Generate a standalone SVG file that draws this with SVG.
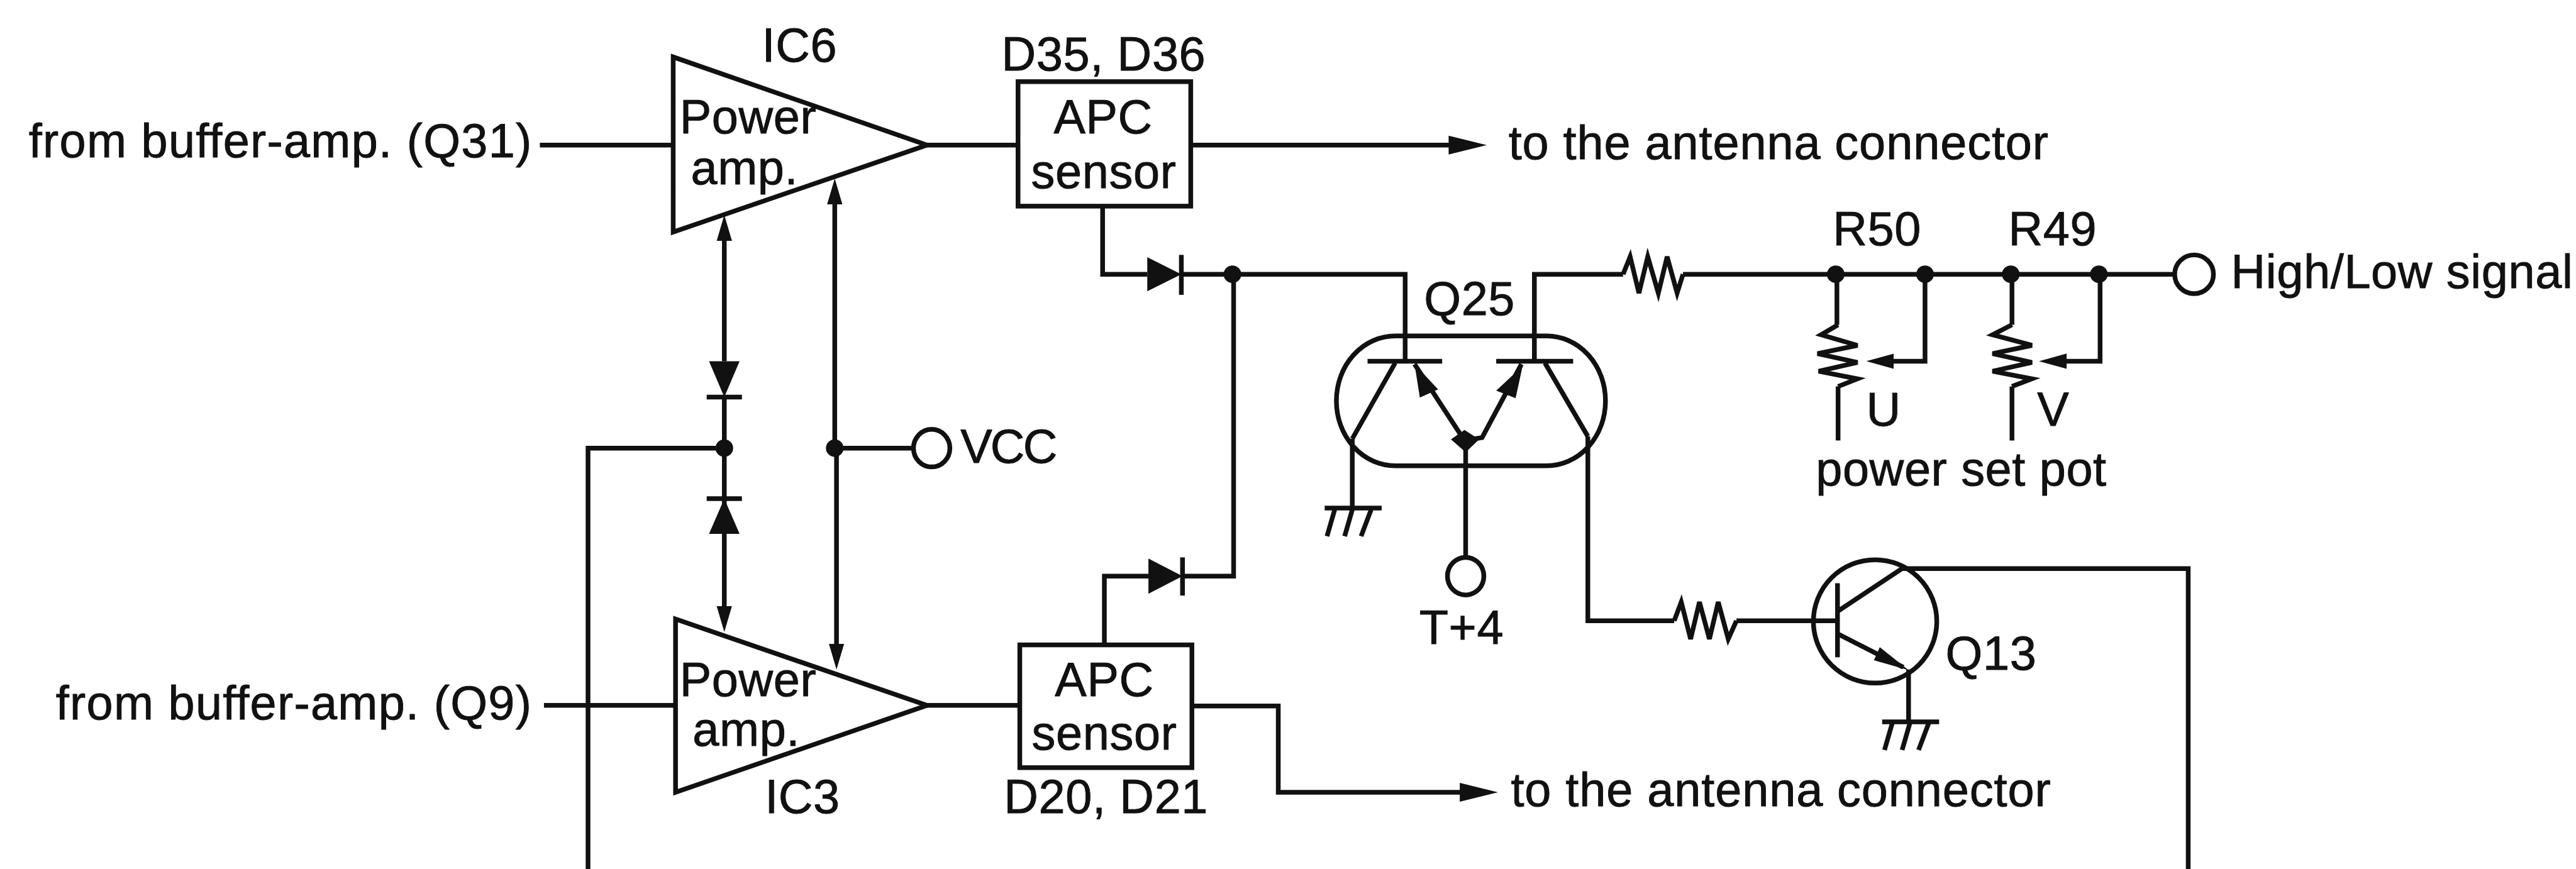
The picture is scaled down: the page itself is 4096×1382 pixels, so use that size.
<svg xmlns="http://www.w3.org/2000/svg" width="4096" height="1382" viewBox="0 0 4096 1382">
<style>
text{font-family:"Liberation Sans",Arial,sans-serif;font-size:81px;fill:#111;stroke:#111;stroke-width:1;letter-spacing:.7px}
.w{letter-spacing:1.4px}
.a{letter-spacing:1px}
.l{fill:none;stroke:#111;stroke-width:8;stroke-linejoin:miter}
.f{fill:#111;stroke:none}
.m{text-anchor:middle}
</style>
<defs>
<marker id="arr" markerUnits="userSpaceOnUse" markerWidth="44" markerHeight="28" refX="30" refY="14" orient="auto" viewBox="0 0 44 28"><path d="M0,1L44,14L0,27Z" fill="#111"/></marker>
<marker id="arrL" markerUnits="userSpaceOnUse" markerWidth="65" markerHeight="32" refX="45" refY="16" orient="auto" viewBox="0 0 65 32"><path d="M0,0L65,16L0,32Z" fill="#111"/></marker>
<marker id="arrM" markerUnits="userSpaceOnUse" markerWidth="47" markerHeight="26" refX="27" refY="13" orient="auto" viewBox="0 0 47 26"><path d="M0,0L47,13L0,26Z" fill="#111"/></marker>
<symbol id="gnd" overflow="visible"><path class="l" d="M-47,0H50M-30,3L-43,48M0,3L-13,48M32,3L15,48"/></symbol>
</defs>
<rect width="4096" height="1382" fill="#fff"/>
<g transform="scale(0.93406)">
<g id="connectors">
<path class="l" d="M919,247H1146"/>
<path class="l" d="M1578,247H1733"/>
<path class="l" d="M2027,247H2511" marker-end="url(#arrL)"/>
<path class="l" d="M926,1201H1150"/>
<path class="l" d="M1578,1201H1736"/>
<path class="l" d="M2029,1202H2176V1349H2530" marker-end="url(#arrL)"/>
<path class="l" d="M1233,615V380" marker-end="url(#arr)"/>
<path class="l" d="M1233,676V909"/>
<path class="l" d="M1233,909V1062" marker-end="url(#arr)"/>
<path class="l" d="M1421,763V318" marker-end="url(#arr)"/>
<path class="l" d="M1424,763V1126" marker-end="url(#arr)"/>
<path class="l" d="M1421,763H1554"/>
<path class="l" d="M1233,763H1001V1480"/>
<path class="l" d="M1877,351V467H1953"/>
<path class="l" d="M2011,467H2392V615"/>
<path class="l" d="M1880,1098V981H1955"/>
<path class="l" d="M2013,981H2100V467"/>
<path class="l" d="M2612,615V467H2763"/>
<path class="l" d="M2865,467H3703"/>
<path class="l" d="M3127,467V553"/>
<path class="l" d="M3129,658V750"/>
<path class="l" d="M3277,467V615H3197" marker-end="url(#arrM)"/>
<path class="l" d="M3425,467V553"/>
<path class="l" d="M3425,658V750"/>
<path class="l" d="M3575,467V615H3491" marker-end="url(#arrM)"/>
<path class="l" d="M2302,747V865"/>
<path class="l" d="M2495,750V950"/>
<path class="l" d="M2703,743V1057H2850"/>
<path class="l" d="M2956,1057H3128"/>
<path class="l" d="M3238,968H3725V1480"/>
<path class="l" d="M3249,1140V1229"/>
<circle class="f" cx="1233" cy="763" r="15"/>
<circle class="f" cx="1421" cy="763" r="15"/>
<circle class="f" cx="2098" cy="467" r="15"/>
<circle class="f" cx="3125" cy="467" r="15"/>
<circle class="f" cx="3277" cy="467" r="15"/>
<circle class="f" cx="3423" cy="467" r="15"/>
<circle class="f" cx="3573" cy="467" r="15"/>
</g>
<g id="label-q31"><text class="w" x="49" y="268">from buffer-amp. (Q31)</text></g>
<g id="label-q9"><text class="w" x="95" y="1225">from buffer-amp. (Q9)</text></g>
<g id="ic6"><path class="l" d="M1146,97V395L1578,247Z"/><text x="1157" y="227">Power</text><text x="1176" y="314">amp.</text><text x="1297" y="105">IC6</text></g>
<g id="ic3"><path class="l" d="M1150,1054V1349L1578,1201Z"/><text x="1157" y="1185">Power</text><text x="1179" y="1270">amp.</text><text x="1302" y="1384">IC3</text></g>
<g id="apc-top"><rect class="l" x="1733" y="139" width="294" height="212"/><text class="m" x="1878" y="227">APC</text><text class="m" x="1879" y="320">sensor</text><text x="1705" y="120">D35, D36</text></g>
<g id="apc-bottom"><rect class="l" x="1736" y="1098" width="293" height="209"/><text class="m" x="1880" y="1185">APC</text><text class="m" x="1880" y="1276">sensor</text><text x="1709" y="1384">D20, D21</text></g>
<g id="antenna-top"><text class="a" x="2568" y="271">to the antenna connector</text></g>
<g id="antenna-bottom"><text class="a" x="2572" y="1372">to the antenna connector</text></g>
<g id="diode-ic6"><path class="f" d="M1207,615H1259L1233,676Z"/><path class="l" d="M1203,676H1263"/></g>
<g id="diode-ic3"><path class="f" d="M1207,909H1259L1233,849Z"/><path class="l" d="M1203,849H1263"/></g>
<g id="diode-apc-top"><path class="f" d="M1953,438V496L2011,467Z"/><path class="l" d="M2011,434V502"/></g>
<g id="diode-apc-bottom"><path class="f" d="M1955,951V1011L2013,981Z"/><path class="l" d="M2013,949V1014"/></g>
<g id="vcc"><ellipse class="l" cx="1586" cy="763" rx="31" ry="32"/><text x="1635" y="788" style="letter-spacing:-3px">VCC</text></g>
<g id="q25">
<rect class="l" x="2275" y="572" width="458" height="221" rx="100" ry="110"/>
<path class="l" d="M2328,615H2455M2547,615H2678"/>
<path class="l" d="M2375,618L2302,747M2630,618L2703,743M2408,620L2493,750L2523,745L2590,620"/>
<path class="f" d="M2408,620L2417,677L2448,663Z"/>
<path class="f" d="M2592,623L2547,665L2580,678Z"/>
<path class="f" d="M2470,748L2493,732L2518,748L2495,770Z"/>
<text x="2424" y="536">Q25</text>
<use href="#gnd" x="2302" y="865"/>
</g>
<g id="t4"><ellipse class="l" cx="2495" cy="981" rx="31" ry="32"/><text class="m" x="2488" y="1096">T+4</text></g>
<g id="r-series-top"><path class="l" d="M2763,467L2775,437L2790,499L2805,437L2823,499L2838,437L2855,499L2865,467"/></g>
<g id="r-base"><path class="l" d="M2850,1057L2862,1025L2878,1088L2893,1025L2910,1088L2925,1025L2942,1088L2956,1057"/></g>
<g id="r50"><path class="l" d="M3129,553L3100,570L3162,588L3094,602L3162,617L3096,632L3162,645L3129,658"/><text x="3120" y="417">R50</text><text x="3177" y="725">U</text></g>
<g id="r49"><path class="l" d="M3425,553L3392,570L3459,588L3392,602L3459,617L3392,632L3459,645L3425,658"/><text x="3419" y="417">R49</text><text x="3468" y="725">V</text></g>
<g id="pot-label"><text x="3091" y="827">power set pot</text></g>
<g id="high-low"><circle class="l" cx="3735" cy="467" r="33"/><text x="3798" y="490">High/Low signal</text></g>
<g id="q13">
<circle class="l" cx="3192" cy="1058" r="105"/>
<path class="l" d="M3128,993V1119M3128,1041L3238,968M3128,1079L3240,1136"/>
<path class="f" d="M3249,1141L3190,1124L3200,1102Z"/>
<text x="3312" y="1140">Q13</text>
<use href="#gnd" x="3251" y="1229"/>
</g>
</g>
</svg>
